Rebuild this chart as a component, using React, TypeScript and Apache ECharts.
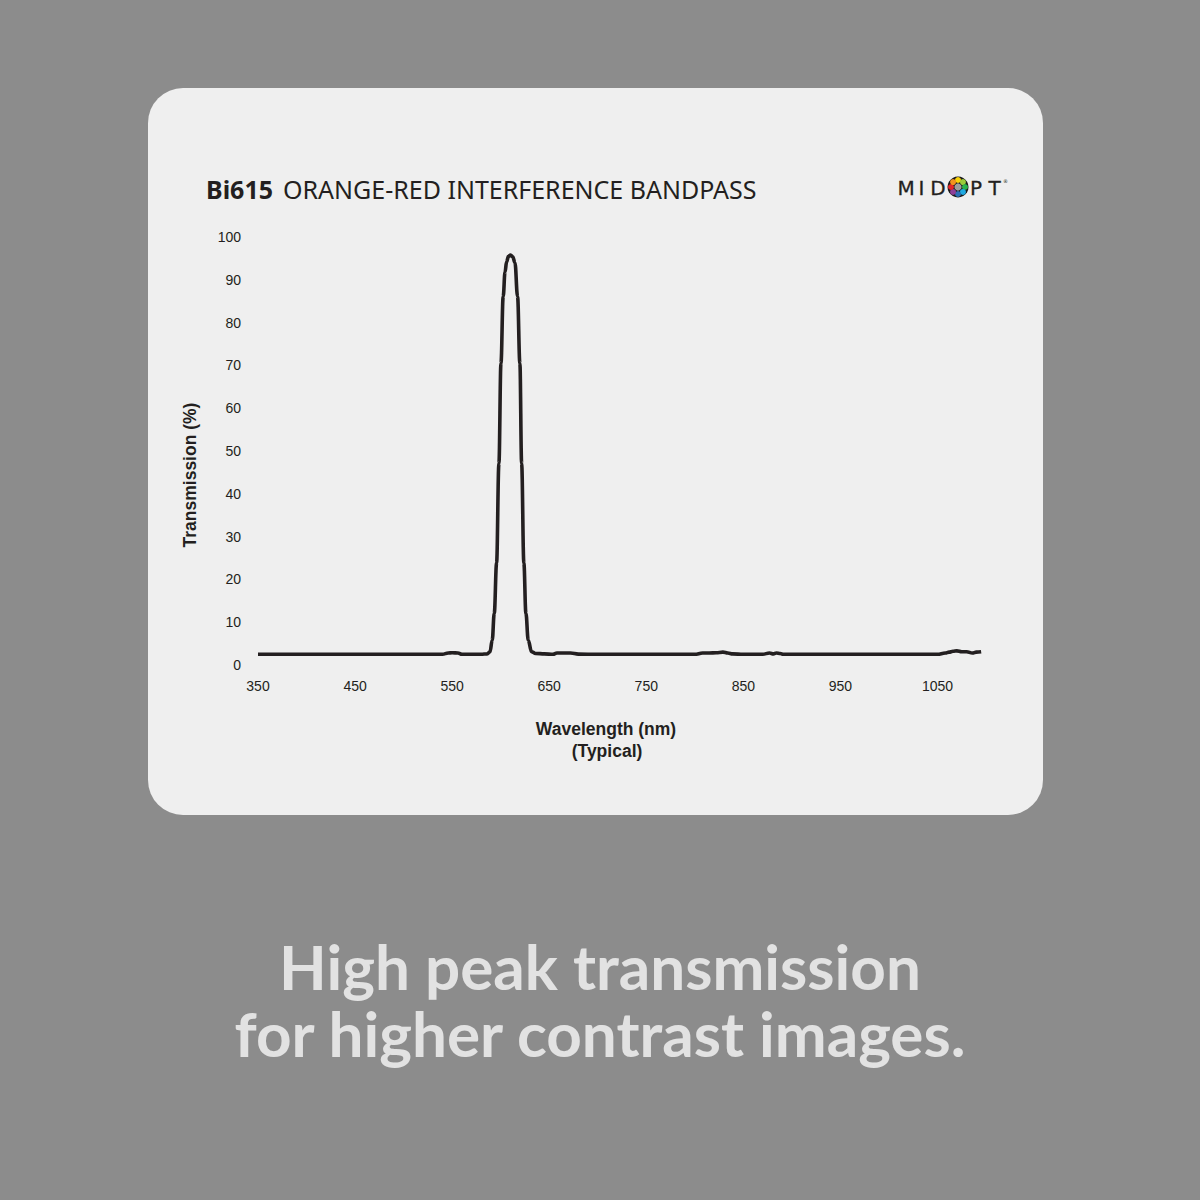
import React, { useEffect, useRef } from "react";
import * as echarts from "echarts";

const wavelengths = [
  350, 400, 450, 500, 540, 546, 550, 556, 560, 570, 580, 586, 589, 591.3, 593.4,
  595.8, 598.2, 600.3, 602.6, 604.5, 606.1, 608, 610.2, 612.4, 614.7, 617.4,
  619.8, 621.6, 623.9, 626, 628.4, 631.8, 636, 645, 654, 658, 672, 680, 700, 750,
  800, 808, 815, 822, 829, 834, 839, 850, 870, 877, 881, 884, 888, 891, 900, 950,
  1000, 1050, 1058, 1062, 1066, 1070, 1075, 1080, 1086, 1090, 1095,
];
const transmission = [
  2.5, 2.5, 2.5, 2.5, 2.5, 2.8, 2.85, 2.8, 2.5, 2.5, 2.5, 2.6, 3.1, 5.8, 12.1,
  23.8, 47.1, 70.5, 86.1, 91.8, 94.2, 95.5, 95.8, 95.4, 94.0, 86.1,
  70.5, 47.1, 23.8, 12.1, 5.8, 3.1, 2.7, 2.6, 2.5, 2.8, 2.8, 2.55, 2.5, 2.5,
  2.5, 2.8, 2.8, 2.85, 3.0, 2.8, 2.6, 2.5, 2.5, 2.8, 2.6, 2.8, 2.7, 2.5, 2.5, 2.5,
  2.5, 2.5, 2.8, 3.0, 3.2, 3.3, 3.1, 3.1, 2.8, 3.0, 3.1,
];
const xTickLabels = [350, 450, 550, 650, 750, 850, 950, 1050];
const titleCode = "Bi615";
const titleText = "ORANGE-RED INTERFERENCE BANDPASS";
const xNameLines = ["Wavelength (nm)", "(Typical)"];
const yName = "Transmission (%)";
const footerLines = ["High peak transmission", "for higher contrast images."];
const logoLeft = ["M", "I", "D"];
const logoRight = ["P", "T"];
const logoDotColors = ["#f6d10a", "#9ccb3b", "#2bb24c", "#1fa9e1", "#2b6fb6", "#8e3f98", "#e2262a", "#f39220"];

export default function App() {
  const ref = useRef<HTMLDivElement>(null);
  useEffect(() => {
    if (!ref.current) return;
    const chart = echarts.init(ref.current, undefined, { renderer: "svg" });
    const ink = "#231f20";
    const dotCx = 958;
    const dotCy = 187;
    const dots = logoDotColors.map((c, i) => {
      const a = (-90 + i * 45) * (Math.PI / 180);
      return {
        type: "circle",
        shape: { cx: dotCx + 7 * Math.cos(a), cy: dotCy + 7 * Math.sin(a), r: 3 },
        style: { fill: c },
        z: 10,
      };
    });
    const letterX = [906, 921.5, 938];
    const letterX2 = [976, 994.5];
    const letters = [
      ...logoLeft.map((t, i) => ({ t, x: letterX[i] })),
      ...logoRight.map((t, i) => ({ t, x: letterX2[i] })),
    ].map((l) => ({
      type: "text",
      x: l.x,
      y: 188,
      style: {
        text: l.t,
        fontSize: 20,
        fontFamily: "DejaVu Sans",
        fill: ink,
        align: "center",
        verticalAlign: "middle",
        stroke: ink,
        lineWidth: 0.3,
      },
    }));
    const nameStyle = {
      fontSize: 17.5,
      fontWeight: "bold",
      fontFamily: "Liberation Sans",
      fill: ink,
      align: "center",
      verticalAlign: "middle",
    };
    chart.setOption({
      animation: false,
      backgroundColor: "#8c8c8c",
      grid: { left: 258, right: 214, top: 237, bottom: 535, containLabel: false },
      xAxis: {
        type: "value",
        min: 350,
        max: 1100,
        interval: 50,
        axisLine: { show: false },
        axisTick: { show: false },
        splitLine: { show: false },
        axisLabel: {
          color: ink,
          fontSize: 14,
          fontFamily: "Liberation Sans",
          margin: 14,
          showMaxLabel: false,
          formatter: (v: number) => (xTickLabels.includes(v) ? String(v) : ""),
        },
      },
      yAxis: {
        type: "value",
        min: 0,
        max: 100,
        interval: 10,
        axisLine: { show: false },
        axisTick: { show: false },
        splitLine: { show: false },
        axisLabel: { color: ink, fontSize: 14, fontFamily: "Liberation Sans", margin: 17 },
      },
      series: [
        {
          type: "line",
          data: wavelengths.map((w, i) => [w, transmission[i]]),
          showSymbol: false,
          smooth: 0.4,
          smoothMonotone: "x",
          lineStyle: { color: ink, width: 3.6 },
          z: 5,
        },
      ],
      graphic: [
        {
          type: "rect",
          shape: { x: 148, y: 88, width: 895, height: 727, r: 35 },
          style: { fill: "#efefef" },
          z: -10,
          silent: true,
        },
        {
          type: "text",
          x: 206,
          y: 189,
          style: {
            text: `{b|${titleCode}}{s| }{r|${titleText}}`,
            verticalAlign: "middle",
            rich: {
              b: { fontSize: 25, fontWeight: "bold", fontFamily: "Noto Sans", fill: ink },
              s: { fontSize: 25, fontFamily: "Noto Sans", fill: ink, width: 10 },
              r: { fontSize: 25, fontFamily: "Noto Sans", fill: ink },
            },
          },
        },
        ...letters,
        {
          type: "circle",
          shape: { cx: dotCx, cy: dotCy, r: 10.5 },
          style: { fill: "#1a1a1a" },
          z: 9,
        },
        ...dots,
        {
          type: "circle",
          shape: { cx: dotCx, cy: dotCy, r: 3.6 },
          style: { fill: "#9e9e9e" },
          z: 10,
        },
        {
          type: "text",
          x: 1003,
          y: 181,
          style: { text: "®", fontSize: 5, fontFamily: "DejaVu Sans", fill: ink, align: "left", verticalAlign: "middle" },
        },
        {
          type: "text",
          x: 190,
          y: 475,
          rotation: Math.PI / 2,
          style: { ...nameStyle, text: yName },
        },
        {
          type: "text",
          x: 606,
          y: 729,
          style: { ...nameStyle, text: xNameLines[0] },
        },
        {
          type: "text",
          x: 607,
          y: 751,
          style: { ...nameStyle, text: xNameLines[1] },
        },
        {
          type: "text",
          x: 600,
          y: 966,
          style: {
            text: footerLines[0],
            fontSize: 62,
            fontWeight: "bold",
            fontFamily: "Lato",
            fill: "#e2e2e2",
            align: "center",
            verticalAlign: "middle",
          },
        },
        {
          type: "text",
          x: 600,
          y: 1033,
          style: {
            text: footerLines[1],
            fontSize: 62,
            fontWeight: "bold",
            fontFamily: "Lato",
            fill: "#e2e2e2",
            align: "center",
            verticalAlign: "middle",
          },
        },
      ],
    });
    return () => chart.dispose();
  }, []);
  return (
    <div
      ref={ref}
      style={{ position: "absolute", left: 0, top: 0, width: 1200, height: 1200 }}
    />
  );
}
